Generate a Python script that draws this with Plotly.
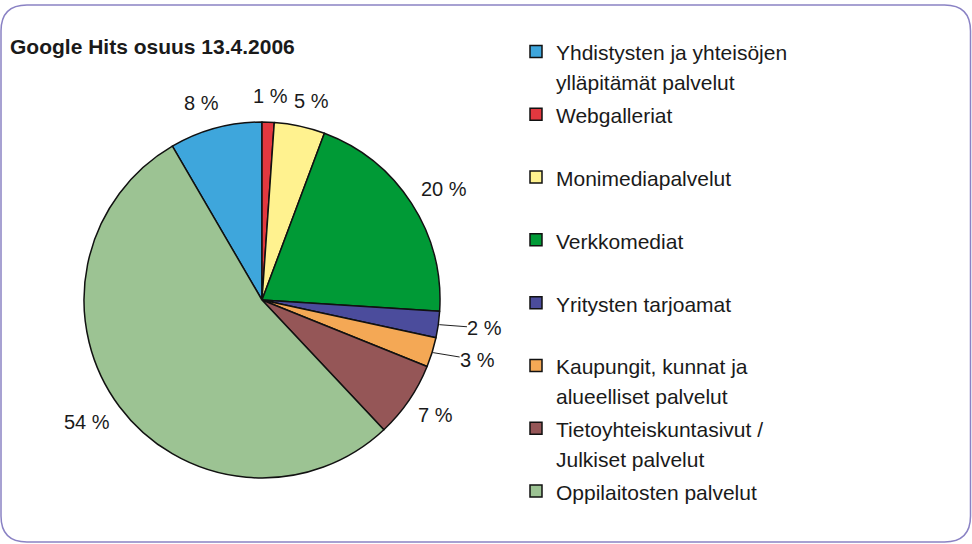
import math
import plotly.graph_objects as go

# ---- data ----
categories = [
    "Yhdistysten ja yhteisöjen\nylläpitämät palvelut",
    "Webgalleriat",
    "Monimediapalvelut",
    "Verkkomediat",
    "Yritysten tarjoamat",
    "Kaupungit, kunnat ja\nalueelliset palvelut",
    "Tietoyhteiskuntasivut /\nJulkiset palvelut",
    "Oppilaitosten palvelut",
]
shares = [8.4, 1.1, 4.6, 20.3, 2.4, 2.7, 6.9, 53.6]
title_text = "Google Hits osuus 13.4.2006"

# ---- style ----
colors = ["#3EA6DC", "#E2383F", "#FFF28F", "#009A36",
          "#4B4C9C", "#F4A855", "#955657", "#9CC393"]
leader_for = {"Yritysten tarjoamat", "Kaupungit, kunnat ja\nalueelliset palvelut"}
W, H = 972, 544
cx, cy, r = 262, 300, 178
FONT = "Liberation Sans, Arial, sans-serif"
TXT = "#1a1a1a"

total = sum(shares)
rotation = -360.0 * shares[0] / total  # first slice ends at 12 o'clock


def legend_label(c):
    lines = c.split("\n")
    if len(lines) < 2:
        lines.append("\u00a0")
    return "<br>".join(f"<span style='font-size:21px'>{ln}</span>" for ln in lines)


def px_to_paper(x, y):
    return x / W, 1 - y / H


fig = go.Figure()
fig.add_trace(go.Pie(
    labels=[legend_label(c) for c in categories],
    values=shares,
    sort=False,
    direction="clockwise",
    rotation=rotation,
    marker=dict(colors=colors, line=dict(color="#111111", width=1.5)),
    textinfo="none",
    hoverinfo="percent",
    domain=dict(x=[(cx - r) / W, (cx + r) / W], y=[1 - (cy + r) / H, 1 - (cy - r) / H]),
))

# percentage labels placed from the data (slice mid-angles)
annotations = []
cum = 0.0
gap = 16
for c, v in zip(categories, shares):
    mid = math.radians(rotation + 360.0 * (cum + v / 2) / total)
    cum += v
    txt = f"{round(100 * v / total)} %"
    half_w, half_h = (12 * len(txt) - 10) / 2, 10
    s, co = math.sin(mid), math.cos(mid)
    push = 18 if c in leader_for else 0
    tx = cx + (r + gap + push) * s + half_w * max(-1.0, min(1.0, 3 * s))
    ty = cy - (r + gap) * co - half_h * co
    if c in leader_for:
        ex, ey = cx + (r + 1) * s, cy - (r + 1) * co
        px, py = px_to_paper(ex, ey)
        annotations.append(dict(
            x=px, y=py, xref="paper", yref="paper", text=txt,
            showarrow=True, arrowhead=0, arrowwidth=1, arrowcolor="#222222",
            ax=tx - ex, ay=ty - ey, axref="pixel", ayref="pixel",
            standoff=0, borderpad=0,
            font=dict(family=FONT, size=20, color=TXT),
        ))
    else:
        px, py = px_to_paper(tx, ty)
        annotations.append(dict(
            x=px, y=py, xref="paper", yref="paper", text=txt, showarrow=False,
            xanchor="center", yanchor="middle",
            font=dict(family=FONT, size=20, color=TXT),
        ))

# rounded frame
x0, x1 = 1.0 / W, 970.5 / W
yt, yb = 1 - 5 / H, 1 - 542 / H
rx, ry = 26 / W, 26 / H
path = (f"M {x0+rx},{yt} L {x1-rx},{yt} Q {x1},{yt} {x1},{yt-ry} "
        f"L {x1},{yb+ry} Q {x1},{yb} {x1-rx},{yb} L {x0+rx},{yb} "
        f"Q {x0},{yb} {x0},{yb+ry} L {x0},{yt-ry} Q {x0},{yt} {x0+rx},{yt} Z")

fig.update_layout(
    width=W, height=H,
    margin=dict(l=0, r=0, t=0, b=0),
    paper_bgcolor="white", plot_bgcolor="white",
    title=dict(text=f"<b>{title_text}</b>", x=10 / W, y=1 - 47 / H,
               xanchor="left", yanchor="middle",
               font=dict(family=FONT, size=21, color=TXT)),
    legend=dict(x=516 / W, y=1 - 30 / H, xanchor="left", yanchor="top",
                font=dict(family=FONT, size=23, color=TXT),
                valign="top", bgcolor="rgba(0,0,0,0)", traceorder="normal"),
    annotations=annotations,
    shapes=[dict(type="path", path=path, xref="paper", yref="paper",
                 line=dict(color="#8A82C4", width=1.5), fillcolor="rgba(0,0,0,0)")],
    showlegend=True,
)

fig.write_html("out.html", config={"displayModeBar": False},
               post_script="document.body.style.margin='0px';")
